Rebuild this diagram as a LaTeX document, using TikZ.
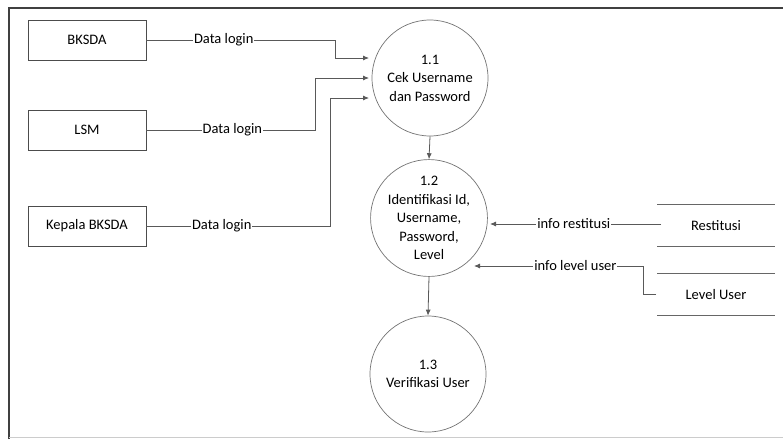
\documentclass[tikz,border=0pt]{standalone}
\usepackage{fontspec}
\setmainfont{Carlito}
\usetikzlibrary{arrows.meta}
\begin{document}
\begin{tikzpicture}[x=1pt,y=-1pt,
  every node/.style={font=\fontsize{14.5}{18.5}\selectfont, text=black},
  ext/.style={draw=black!70, line width=0.9pt, minimum width=118pt, minimum height=40pt, inner sep=0pt},
  proc/.style={circle, draw=black!55, line width=0.7pt, minimum size=116pt, inner sep=0pt, align=center},
  store/.style={minimum width=117pt, minimum height=41pt, inner sep=0pt},
  storeline/.style={draw=black!60, line width=1pt},
  flow/.style={draw=black!65, line width=0.8pt, -{Latex[length=6pt,width=5pt]}},
  lbl/.style={fill=white, inner sep=1pt}
]
\useasboundingbox (0,0) rectangle (783,439);
% frame
\draw[black!75, line width=1.4pt] (9,439) -- (9,8) -- (790,8);
\draw[black!20, line width=0.8pt] (9,437) -- (790,437);

% externals
\node[ext] (bk) at (87,40) {BKSDA};
\node[ext] (lsm) at (87,130) {LSM};
\node[ext] (kep) at (87,226) {Kepala BKSDA};

% processes
\node[proc] (c11) at (430,78) {1.1\\Cek Username\\dan Password};
\node[proc] (c12) at (429,218) {1.2\\Identifikasi Id,\\Username,\\Password,\\Level};
\node[proc] (c13) at (428,374) {1.3\\Verifikasi User};

% data stores
\node[store] (rst) at (716,225.5) {Restitusi};
\node[store] (lvl) at (716,294.5) {Level User};
\draw[storeline] (rst.north west) -- (rst.north east);
\draw[storeline] (rst.south west) -- (rst.south east);
\draw[storeline] (lvl.north west) -- (lvl.north east);
\draw[storeline] (lvl.south west) -- (lvl.south east);

% bend points and arrow ends
\coordinate (b1) at (335,40);
\coordinate (b2) at (315,130);
\coordinate (b3) at (330,226);
\coordinate (in1) at (369,58);
\coordinate (in2) at (369,78);
\coordinate (in3) at (369,98);
\coordinate (rs) at (661,224);
\coordinate (rin) at (490,224);
\coordinate (ls) at (656,294);
\coordinate (lb) at (643,294);
\coordinate (lin) at (474,266);

% flows into 1.1
\draw[flow] (bk.east) -- node[lbl, pos=0.41] {Data login} (b1) |- (in1);
\draw[flow] (lsm.east) -- node[lbl, pos=0.51] {Data login} (b2) |- (in2);
\draw[flow] (kep.east) -- node[lbl, pos=0.41] {Data login} (b3) |- (in3);

% process chain
\draw[flow] (c11.south) -- (c12.north);
\draw[flow] (c12.south) -- (c13.north);

% store flows
\draw[flow] (rs) -- node[lbl, pos=0.51] {info restitusi} (rin);
\draw[flow] (ls) -- (lb) |- node[lbl, pos=0.70] {info level user} (lin);
\end{tikzpicture}
\end{document}
